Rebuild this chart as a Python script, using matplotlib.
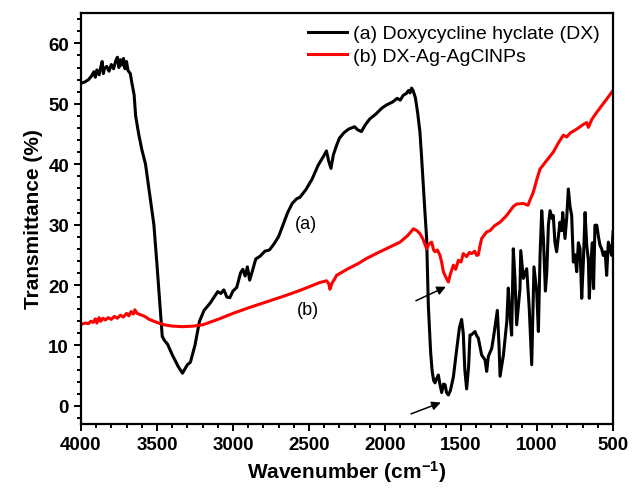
import matplotlib
matplotlib.use('Agg')
import matplotlib.pyplot as plt
from matplotlib.ticker import MultipleLocator

plt.rcParams['font.family'] = ['Liberation Sans', 'DejaVu Sans']
plt.rcParams['mathtext.fontset'] = 'custom'
plt.rcParams['mathtext.bf'] = 'Liberation Sans:bold'
plt.rcParams['mathtext.default'] = 'bf'

# (a) Doxycycline hyclate (DX)
wn_dx = [4000, 3975, 3950, 3930, 3915, 3905, 3895, 3880, 3870, 3860, 3852, 3845,
         3830, 3815, 3800, 3785, 3770, 3760, 3750, 3740, 3730, 3720, 3710, 3700,
         3690, 3675, 3665, 3650, 3640, 3620, 3600, 3575, 3550, 3520, 3500, 3490,
         3475, 3465, 3450, 3430, 3400, 3360, 3332, 3300, 3280, 3250, 3220, 3190,
         3150, 3100, 3080, 3060, 3040, 3020, 3000, 2975, 2950, 2935, 2920, 2905,
         2890, 2870, 2850, 2820, 2790, 2760, 2730, 2700, 2670, 2640, 2610, 2580,
         2560, 2520, 2480, 2440, 2400, 2385, 2370, 2355, 2340, 2320, 2300, 2270,
         2240, 2200, 2180, 2155, 2130, 2100, 2060, 2020, 1990, 1950, 1920, 1900,
         1880, 1860, 1845, 1835, 1825, 1815, 1800, 1785, 1770, 1760, 1748, 1737,
         1726, 1715, 1700, 1690, 1680, 1671, 1660, 1649, 1638, 1627, 1615, 1605,
         1595, 1583, 1570, 1550, 1530, 1510, 1496, 1485, 1475, 1463, 1450, 1441,
         1430, 1408, 1397, 1386, 1364, 1342, 1331, 1320, 1298, 1287, 1261, 1250,
         1243, 1221, 1199, 1189, 1178, 1167, 1156, 1145, 1134, 1112, 1107, 1090,
         1068, 1051, 1035, 1020, 1002, 991, 980, 969, 958, 945, 936, 925, 914,
         900, 893, 882, 871, 860, 849, 838, 831, 816, 805, 794, 783, 772, 761,
         750, 739, 728, 717, 706, 695, 684, 673, 662, 656, 645, 636, 628, 619,
         607, 596, 586, 575, 564, 552, 542, 531, 520, 509, 500]
t_dx = [53.4, 53.6, 54.0, 54.6, 55.3, 54.4, 55.6, 54.8, 56.0, 57.0, 55.0, 55.8,
        56.2, 55.4, 56.5, 55.8, 57.2, 57.7, 56.0, 57.3, 56.4, 57.5, 55.8, 57.0,
        55.5, 55.0, 53.5, 51.5, 48.0, 45.0, 42.5, 40.0, 35.5, 30.0, 23.5, 20.0,
        14.5, 11.5, 10.8, 10.2, 8.5, 6.5, 5.4, 6.8, 7.2, 10.0, 14.0, 15.8,
        17.0, 18.9, 18.6, 19.2, 18.0, 17.9, 19.0, 19.6, 22.0, 22.6, 21.5, 23.0,
        20.8, 22.5, 24.3, 24.8, 25.6, 25.8, 26.8, 28.0, 30.0, 32.0, 33.5, 34.3,
        34.5, 35.8, 37.5, 39.8, 41.5, 42.2, 40.5, 39.3, 41.5, 43.0, 44.3, 45.2,
        45.8, 46.2, 45.7, 45.4, 46.5, 47.5, 48.3, 49.3, 49.8, 50.3, 50.9, 50.6,
        51.4, 51.7, 52.2, 51.8, 52.6, 52.2, 51.0, 48.5, 45.3, 41.5, 36.5, 32.0,
        27.7, 16.7, 9.0, 5.8, 4.2, 3.8, 4.5, 5.1, 3.5, 2.2, 3.6, 3.5,
        2.2, 1.8, 2.5, 4.8, 9.0, 13.0, 14.3, 12.0, 6.0, 2.8, 6.5, 11.7,
        11.8, 12.3, 11.6, 11.2, 8.4, 7.6, 5.7, 8.2, 9.5, 11.2, 15.8, 10.0,
        4.9, 8.4, 13.9, 19.5, 15.0, 11.7, 26.0, 21.0, 13.4, 19.4, 25.7, 21.1,
        22.7, 16.1, 6.8, 23.0, 18.9, 12.3, 25.0, 32.3, 27.7, 19.0, 22.0, 30.0, 32.3,
        31.0, 31.5, 27.0, 25.5, 28.0, 30.4, 29.0, 32.0, 27.7, 31.0, 35.9, 33.0, 31.5, 23.8,
        25.0, 22.2, 27.0, 26.0, 17.8, 24.0, 32.0, 26.6, 24.0, 17.8, 24.0, 27.0, 19.4, 29.9,
        29.9, 28.0, 26.6, 26.0, 24.9, 25.5, 21.6, 27.1, 26.0, 24.9, 28.8]

# (b) DX-Ag-AgClNPs
wn_np = [4000, 3970, 3950, 3935, 3920, 3905, 3895, 3880, 3870, 3855, 3840, 3820,
         3800, 3780, 3760, 3740, 3720, 3700, 3685, 3670, 3655, 3645, 3630, 3610,
         3580, 3550, 3500, 3450, 3400, 3330, 3260, 3200, 3100, 3000, 2900, 2780,
         2660, 2560, 2430, 2384, 2370, 2362, 2350, 2318, 2250, 2180, 2121, 2050,
         1967, 1901, 1850, 1813, 1790, 1770, 1750, 1726, 1710, 1693, 1680, 1671,
         1655, 1638, 1625, 1616, 1600, 1583, 1570, 1550, 1535, 1517, 1500, 1485,
         1463, 1445, 1430, 1410, 1397, 1386, 1375, 1364, 1331, 1309, 1280, 1243,
         1200, 1156, 1134, 1090, 1060, 1024, 1000, 980, 940, 893, 860, 827, 805,
         780, 739, 700, 673, 662, 640, 607, 580, 550, 509, 500]
t_np = [13.5, 13.7, 13.6, 14.0, 13.8, 14.4, 13.7, 14.6, 14.0, 14.5, 14.2, 14.6,
        14.3, 14.8, 14.5, 15.0, 14.7, 15.3, 14.9, 15.6, 15.2, 15.9, 15.3, 15.1,
        14.8, 14.3, 13.8, 13.4, 13.2, 13.1, 13.2, 13.4, 14.3, 15.3, 16.2, 17.2,
        18.2, 19.1, 20.4, 20.7, 20.2, 19.3, 20.2, 21.6, 22.6, 23.5, 24.4, 25.3,
        26.3, 27.1, 28.2, 29.3, 29.0, 28.5, 27.6, 26.0, 26.8, 27.1, 25.8, 25.5,
        25.8, 24.9, 23.5, 22.2, 21.3, 20.5, 21.8, 23.3, 22.6, 24.1, 23.8, 25.2,
        24.7, 25.4, 25.2, 25.6, 24.9, 25.0, 26.5, 27.7, 28.8, 29.0, 29.8, 30.4,
        31.5, 33.0, 33.4, 33.5, 33.2, 35.4, 37.6, 39.2, 40.5, 42.0, 43.5, 44.8, 44.5,
        45.2, 45.8, 46.5, 46.9, 46.1, 47.4, 48.6, 49.5, 50.5, 51.9, 52.2]

fig = plt.figure(figsize=(6.32, 4.89), dpi=100)
ax = fig.add_axes([0.128, 0.131, 0.842, 0.840])

ax.plot(wn_dx, t_dx, color='black', lw=2.2, label='(a) Doxycycline hyclate (DX)')
ax.plot(wn_np, t_np, color='red', lw=2.2, label='(b) DX-Ag-AgClNPs')

ax.set_xlim(4000, 500)
ax.set_ylim(-3, 65)
ax.xaxis.set_major_locator(MultipleLocator(500))
ax.xaxis.set_minor_locator(MultipleLocator(100))
ax.yaxis.set_major_locator(MultipleLocator(10))
ax.yaxis.set_minor_locator(MultipleLocator(2))
ax.tick_params(which='both', direction='out', width=1.4, top=False, right=False)
ax.tick_params(which='major', length=5, labelsize=13.5)
ax.tick_params(which='minor', length=3)
for lab in ax.get_xticklabels() + ax.get_yticklabels():
    lab.set_fontweight('bold')
for s in ax.spines.values():
    s.set_linewidth(1.6)

ax.set_xlabel('Wavenumber (cm$^{-1}$)', fontsize=15, fontweight='bold')
ax.set_ylabel('Transmittance (%)', fontsize=15, fontweight='bold')

ax.text(2520, 30.1, '(a)', fontsize=13, ha='center', va='center')
ax.text(2507, 16.0, '(b)', fontsize=13, ha='center', va='center')

arrow = dict(arrowstyle='-|>', color='black', lw=1.1, mutation_scale=13)
ax.annotate('', xy=(1583, 19.9), xytext=(1813, 17.2), arrowprops=arrow)
ax.annotate('', xy=(1616, 0.7), xytext=(1846, -1.5), arrowprops=arrow)

ax.legend(loc='upper left', bbox_to_anchor=(0.405, 1.0), frameon=False,
          fontsize=14, handlelength=2.0, handletextpad=0.3, labelspacing=0.25,
          borderaxespad=0.2)

fig.savefig('out.png', dpi=100)
